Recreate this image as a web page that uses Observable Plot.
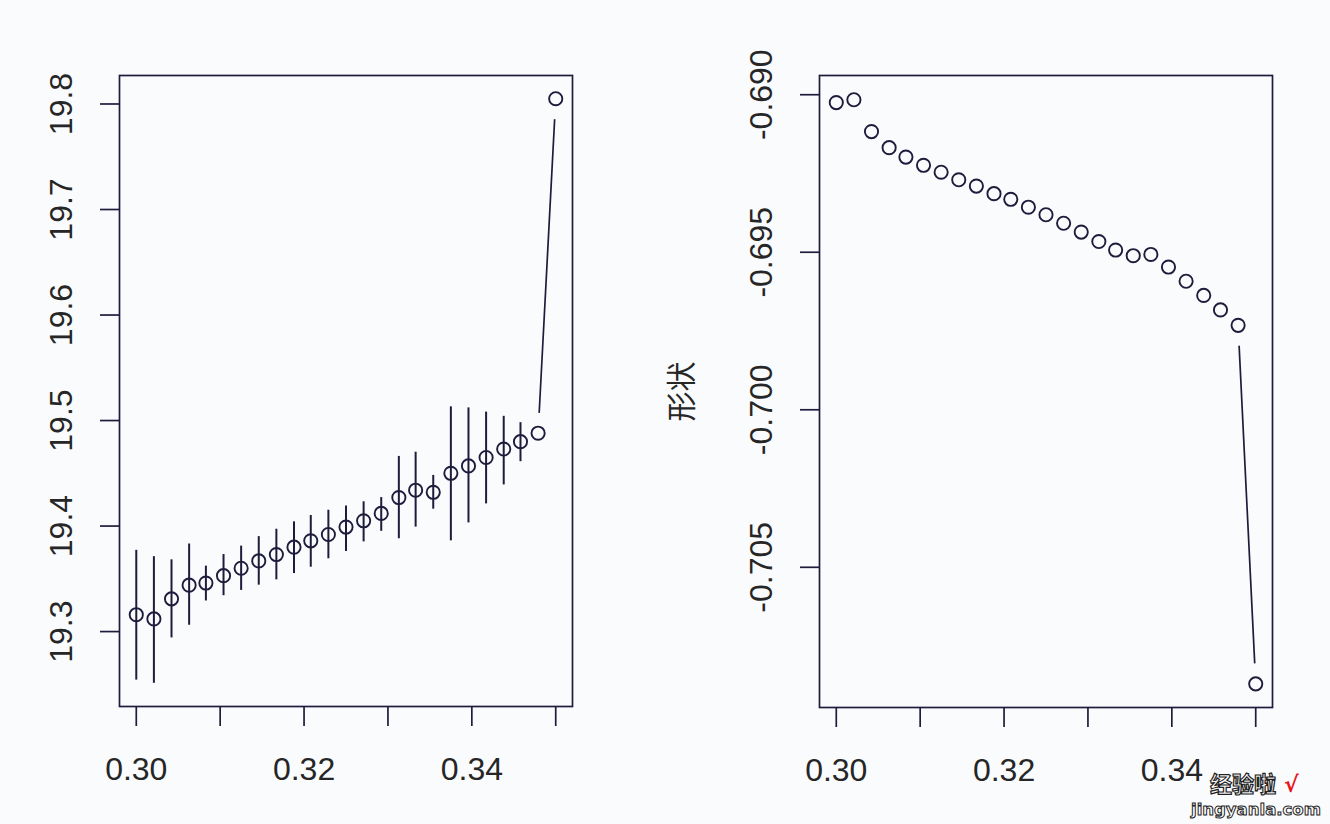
<!DOCTYPE html>
<html>
<head>
<meta charset="utf-8">
<script src="https://cdn.jsdelivr.net/npm/d3@7"></script>
<script src="https://cdn.jsdelivr.net/npm/@observablehq/plot@0.6"></script>
<style>
  html, body { margin: 0; padding: 0; background: #fafbfd; }
  #wrap { position: relative; width: 1330px; height: 824px; overflow: hidden; background: #fafbfd; }
  #left, #right { position: absolute; top: 0; }
  #left { left: 0; }
  #right { left: 665px; }
  .wm1 { position: absolute; left: 1210px; top: 771px; height: 23px; font: bold 22px/23px "Noto Sans CJK SC", sans-serif; color: #fff;
         -webkit-text-stroke: 1.2px #222; white-space: nowrap; }
  .wm1 span { color: #e8141b; -webkit-text-stroke: 0; font-family: "DejaVu Sans", sans-serif; font-weight: bold; margin-left: 8px; }
  .wm2 { position: absolute; left: 1191px; top: 801px; height: 17px; font: bold 16.5px/17px "DejaVu Sans", sans-serif; color: #fff;
         -webkit-text-stroke: 1px #222; white-space: nowrap; }
</style>
</head>
<body>
<div id="wrap">
  <div id="left"></div>
  <div id="right"></div>
  <div class="wm1">经验啦<span>√</span></div>
  <div class="wm2">jingyanla.com</div>
</div>
<script>
// ---- data ----
const xValues = [0.3000, 0.3021, 0.3042, 0.3063, 0.3083, 0.3104, 0.3125, 0.3146, 0.3167, 0.3188,
                 0.3208, 0.3229, 0.3250, 0.3271, 0.3292, 0.3313, 0.3333, 0.3354, 0.3375, 0.3396,
                 0.3417, 0.3438, 0.3458, 0.3479, 0.3500];
const leftMean  = [19.316, 19.312, 19.331, 19.344, 19.346, 19.353, 19.360, 19.367, 19.373, 19.380,
                   19.386, 19.392, 19.399, 19.405, 19.412, 19.427, 19.434, 19.432, 19.450, 19.457,
                   19.465, 19.473, 19.480, 19.488, 19.805];
const leftLower = [19.254, 19.251, 19.294, 19.306, 19.329, 19.334, 19.339, 19.344, 19.349, 19.355,
                   19.361, 19.369, 19.376, 19.385, 19.395, 19.388, 19.399, 19.416, 19.386, 19.403,
                   19.421, 19.439, 19.461, null, null];
const leftUpper = [19.377, 19.371, 19.368, 19.383, 19.362, 19.373, 19.381, 19.390, 19.397, 19.404,
                   19.410, 19.415, 19.419, 19.423, 19.427, 19.466, 19.470, 19.448, 19.513, 19.512,
                   19.508, 19.504, 19.498, null, null];
const rightShape = [-0.69025, -0.69016, -0.69117, -0.69168, -0.69198, -0.69224, -0.69246, -0.69270,
                    -0.69290, -0.69314, -0.69332, -0.69357, -0.69381, -0.69408, -0.69436, -0.69466,
                    -0.69493, -0.69511, -0.69507, -0.69547, -0.69592, -0.69637, -0.69683, -0.69732,
                    -0.70870];
const xTicks = [0.30, 0.31, 0.32, 0.33, 0.34, 0.35];
const xTickLabels = ["0.30", "", "0.32", "", "0.34", ""];
const leftYTicks = [19.3, 19.4, 19.5, 19.6, 19.7, 19.8];
const leftYTickLabels = ["19.3", "19.4", "19.5", "19.6", "19.7", "19.8"];
const rightYTicks = [-0.690, -0.695, -0.700, -0.705];
const rightYTickLabels = ["-0.690", "-0.695", "-0.700", "-0.705"];
const rightYLabel = "形状";

// ---- build tables ----
const leftData = xValues.map((x, i) => ({x, y: leftMean[i], lo: leftLower[i], hi: leftUpper[i]}));
const leftBars = leftData.filter(d => d.lo != null);
const rightData = xValues.map((x, i) => ({x, y: rightShape[i]}));

const bg = "#fafbfd";
const ink = "#1e1c3c";
const txt = "#262626";
const font = "'Liberation Sans', Arial, Helvetica, sans-serif";

function panel({data, bars, yDomain, yTicks, yTickLabels, marginLeft, marginRight, marginBottom, ylabel}) {
  return Plot.plot({
    width: 665,
    height: 824,
    marginLeft, marginRight, marginTop: 75, marginBottom,
    style: {background: "transparent", fontFamily: font, color: txt, overflow: "visible"},
    x: {domain: [0.298, 0.352], axis: null},
    y: {domain: yDomain, axis: null},
    marks: [
      // type "b": connecting line with gaps around points
      Plot.line(data, {x: "x", y: "y", stroke: ink, strokeWidth: 1.7}),
      Plot.dot(data, {x: "x", y: "y", r: 20.5, fill: bg, stroke: "none"}),
      bars ? Plot.ruleX(bars, {x: "x", y1: "lo", y2: "hi", stroke: ink, strokeWidth: 2}) : null,
      Plot.dot(data, {x: "x", y: "y", r: 6.6, fill: "none", stroke: ink, strokeWidth: 1.9}),
      Plot.frame({stroke: ink, strokeWidth: 1.7}),
      Plot.axisX(xTicks, {
        anchor: "bottom", tickSize: 20, tickPadding: 31, stroke: ink, strokeWidth: 1.7,
        fill: txt, fontSize: 32, label: null,
        tickFormat: d => xTickLabels[xTicks.indexOf(d)]
      }),
      Plot.axisY(yTicks, {anchor: "left", tickSize: 19, stroke: ink, strokeWidth: 1.7, fill: "none", label: null}),
      Plot.text(yTicks, {
        y: d => d, text: d => yTickLabels[yTicks.indexOf(d)],
        frameAnchor: "left", textAnchor: "middle", lineAnchor: "middle",
        dx: -58, rotate: -90, fontSize: 32, fill: txt
      }),
      ylabel ? Plot.text([ylabel], {
        text: d => d, frameAnchor: "left", textAnchor: "middle", lineAnchor: "middle",
        dx: -137, rotate: -90, fontSize: 30, fill: txt,
        fontFamily: "'Noto Sans CJK SC', sans-serif"
      }) : null
    ]
  });
}

document.getElementById("left").append(panel({
  data: leftData, bars: leftBars, yDomain: [19.229, 19.827],
  yTicks: leftYTicks, yTickLabels: leftYTickLabels,
  marginLeft: 119, marginRight: 93, marginBottom: 118, ylabel: null
}));
document.getElementById("right").append(panel({
  data: rightData, bars: null, yDomain: [-0.70945, -0.68939],
  yTicks: rightYTicks, yTickLabels: rightYTickLabels,
  marginLeft: 154, marginRight: 58, marginBottom: 117, ylabel: rightYLabel
}));
</script>
</body>
</html>
